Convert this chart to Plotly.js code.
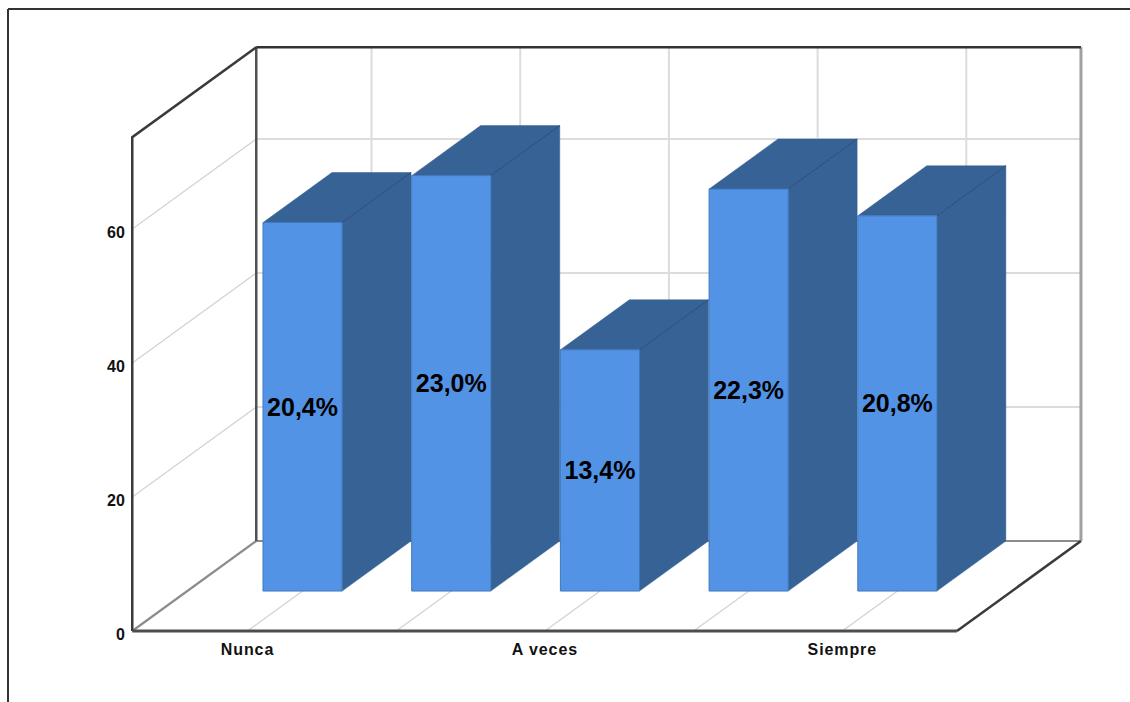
<!DOCTYPE html>
<html>
<head>
<meta charset="utf-8">
<script src="https://cdn.plot.ly/plotly-3.0.1.min.js"></script>
<style>
  html, body { margin: 0; padding: 0; background: #fff; }
  #chart { width: 1130px; height: 702px; }
  #chart .xtick text { letter-spacing: 0.9px; }
</style>
</head>
<body>
<div id="chart"></div>
<script>
// Responses per answer option, and the percentages printed on the bars
const tickLabels = ['Nunca', '', 'A veces', '', 'Siempre'];
const counts = [55, 62, 36, 60, 56];
const percentLabels = ['20,4%', '23,0%', '13,4%', '22,3%', '20,8%'];
const valueTicks = [0, 20, 40, 60];

// Oblique box: one category step is 148.7px, one count is 6.7px
const stepPx = 148.7, unitPx = 6.7;
const depthX = 124 / stepPx, depthY = 90 / unitPx;   // shift of the back wall
const boxLeft = -0.775, boxRight = 4.771, boxTop = 73.7;
const barWidth = 0.532, barNear = 0.444, barFar = 1;

// Page layout in pixels. The plot area is larger than the box so its front
// edges are not trimmed; the axes are placed on the box with free anchors.
const W = 1130, H = 702;
const m = { l: 110, r: 30, t: 30, b: 50 };
const axisLeftPx = 132, axisBottomPx = 631, originPx = 247.5;
const plotW = W - m.l - m.r, plotH = H - m.t - m.b;
const xRange = [(m.l - originPx) / stepPx, (W - m.r - originPx) / stepPx];
const yRange = [(axisBottomPx - (H - m.b)) / unitPx, (axisBottomPx - m.t) / unitPx];

const positions = counts.map((_, i) => i);

// Project a point (category position, value, depth 0..1) onto the page plane
const px = (x, d) => x + d * depthX;
const py = (y, d) => y + d * depthY;

// Build one line trace from a list of [x, y, depth] paths
function lines(paths, color, width) {
  const xs = [], ys = [];
  paths.forEach(p => {
    p.forEach(([x, y, d]) => { xs.push(px(x, d)); ys.push(py(y, d)); });
    xs.push(null); ys.push(null);
  });
  return { type: 'scatter', mode: 'lines', x: xs, y: ys,
           hoverinfo: 'skip', line: { color, width } };
}

function face(points, color) {
  return { type: 'scatter', mode: 'lines', fill: 'toself', fillcolor: color,
           x: points.map(([x, , d]) => px(x, d)),
           y: points.map(([, y, d]) => py(y, d)),
           hoverinfo: 'skip', line: { color, width: 0.5 } };
}

const gridTicks = valueTicks.filter(v => v > 0);
const traces = [
  // Wall and floor grid
  lines(gridTicks.map(v => [[boxLeft, v, 1], [boxRight, v, 1]]), '#dcdcdc', 2),
  lines(gridTicks.map(v => [[boxLeft, v, 0], [boxLeft, v, 1]]), '#d2d2d2', 1.2),
  lines(positions.map(i => [[i, 0, 1], [i, boxTop, 1]]), '#dcdcdc', 2),
  lines(positions.map(i => [[i, 0, 0], [i, 0, 1]]), '#d2d2d2', 1.2),
  // Box edges
  lines([[[boxLeft, 0, 1], [boxRight, 0, 1]]], '#8c8c8c', 2.2),
  lines([[[boxLeft, 0, 0], [boxLeft, 0, 1]]], '#8c8c8c', 2.2),
  lines([[[boxRight, 0, 1], [boxRight, boxTop, 1]]], '#a0a0a0', 3),
  lines([[[boxLeft, 0, 1], [boxLeft, boxTop, 1]]], '#505050', 2.5),
  lines([[[boxLeft, boxTop, 1], [boxRight, boxTop, 1]]], '#333333', 2.5),
  lines([[[boxLeft, 0, 0], [boxLeft, boxTop, 0], [boxLeft, boxTop, 1]]], '#3a3a3a', 2.5),
  lines([[[boxRight, 0, 0], [boxRight, 0, 1]]], '#3a3a3a', 2.5),
  lines([[[boxLeft, 0, 0], [boxRight, 0, 0]]], '#4d4d4d', 3)
];

// Top and side of each bar, left to right
counts.forEach((v, i) => {
  const a = i - barWidth / 2, b = i + barWidth / 2;
  traces.push(face([[b, 0, barNear], [b, 0, barFar], [b, v, barFar], [b, v, barNear], [b, 0, barNear]], '#376295'));
  traces.push(face([[a, v, barNear], [b, v, barNear], [b, v, barFar], [a, v, barFar], [a, v, barNear]], '#376295'));
  traces.push(lines([[[b, v, barNear], [b, v, barFar]]], '#2b4d78', 1));
});

// Front faces sit on the overlaid axis so they cover every side face
traces.push({
  type: 'bar',
  xaxis: 'x', yaxis: 'y2',
  x: positions.map(i => px(i, barNear)),
  y: counts,
  base: counts.map(() => py(0, barNear)),
  width: barWidth,
  marker: { color: '#5393e6', line: { color: '#3f78bd', width: 1 } },
  text: percentLabels,
  textposition: 'inside',
  insidetextanchor: 'middle',
  textangle: 0,
  constraintext: 'none',
  insidetextfont: { family: 'Liberation Sans, Arial, sans-serif', size: 25, color: '#000000', weight: 'bold' },
  hoverinfo: 'skip'
});

const tickFont = { family: 'Liberation Sans, Arial, sans-serif', size: 16, color: '#111111', weight: 'bold' };

// Outer frame lines along the top and left of the page
const toPaperX = p => (p - m.l) / plotW;
const toPaperY = p => (H - m.b - p) / plotH;
const frameLine = { color: '#333333', width: 2 };
const shapes = [
  { type: 'line', xref: 'paper', yref: 'paper', line: frameLine,
    x0: toPaperX(8), x1: toPaperX(W), y0: toPaperY(9), y1: toPaperY(9) },
  { type: 'line', xref: 'paper', yref: 'paper', line: frameLine,
    x0: toPaperX(8), x1: toPaperX(8), y0: toPaperY(9), y1: toPaperY(H) }
];

const layout = {
  width: W, height: H,
  margin: m,
  paper_bgcolor: '#ffffff',
  plot_bgcolor: '#ffffff',
  showlegend: false,
  hovermode: false,
  shapes,
  xaxis: {
    range: xRange, showgrid: false, zeroline: false, showline: false,
    anchor: 'free', position: toPaperY(axisBottomPx),
    tickmode: 'array', tickvals: positions, ticktext: tickLabels,
    ticks: 'outside', ticklen: 4, tickcolor: 'rgba(0,0,0,0)', tickfont: tickFont
  },
  yaxis: {
    range: yRange, showgrid: false, zeroline: false, showline: false,
    anchor: 'free', position: toPaperX(axisLeftPx),
    tickmode: 'array', tickvals: valueTicks, ticktext: valueTicks.map(String),
    ticks: 'outside', ticklen: 4, tickcolor: 'rgba(0,0,0,0)', tickfont: tickFont,
    ticklabelshift: 3
  },
  yaxis2: { range: yRange, overlaying: 'y', side: 'left', visible: false }
};

Plotly.newPlot('chart', traces, layout, { displayModeBar: false, staticPlot: true });
</script>
</body>
</html>
